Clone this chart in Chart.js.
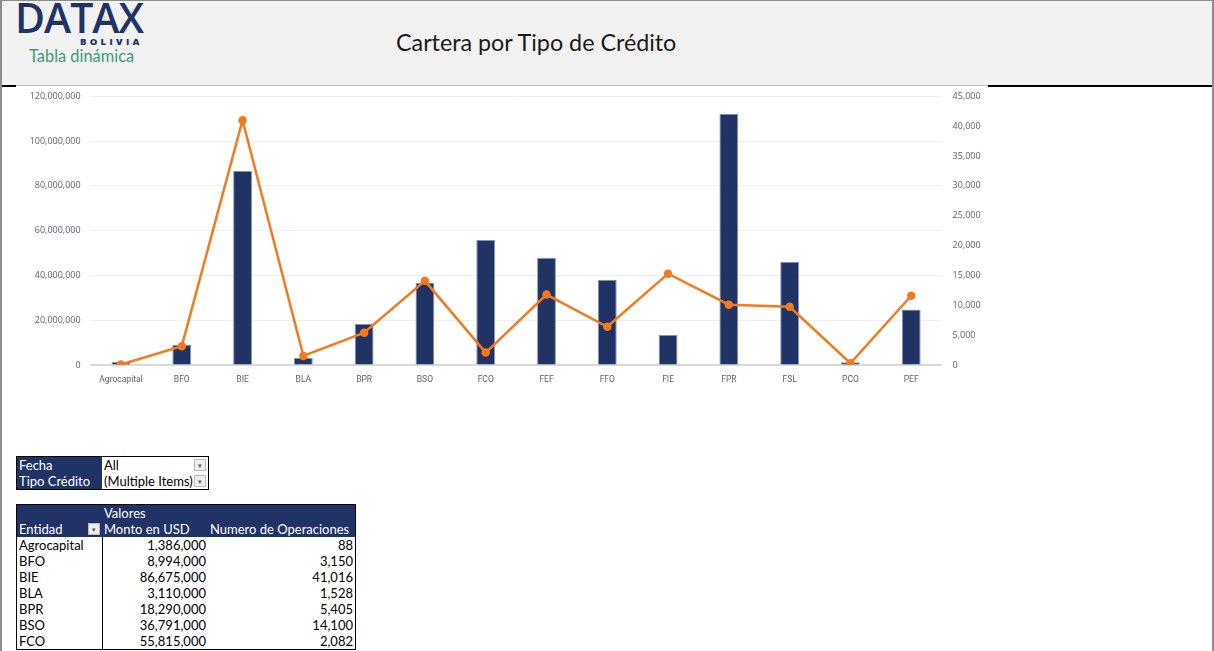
<!DOCTYPE html>
<html>
<head>
<meta charset="utf-8">
<script src="https://cdn.jsdelivr.net/npm/chart.js@4.4.1/dist/chart.umd.min.js"></script>
<style>
  html, body { margin: 0; padding: 0; background: #fff; }
  #frame { position: relative; width: 1214px; height: 651px; overflow: hidden; box-sizing: border-box;
    border-left: 2px solid #8c8c8c; border-top: 1px solid #8c8c8c; border-right: 2px solid #8c8c8c; }
  #header { position: absolute; left: 0; top: 0; width: 1212px; height: 85px; background: #f2f2f2; }
  #hline1 { position: absolute; left: 0; top: 84px; width: 988px; height: 1px; background: #bfbfbf; }
  #hline2 { position: absolute; left: 986px; top: 84px; width: 230px; height: 2px; background: #000; }
  #hline3 { position: absolute; left: 0; top: 84px; width: 14px; height: 2px; background: #000; }
  #logo { position: absolute; left: 13px; top: -12px; font-family: "Open Sans", sans-serif; font-weight: 600;
    font-size: 41px; color: #1f3366; letter-spacing: -1px; }
  #bolivia { position: absolute; left: 78px; top: 34px; font-family: "Open Sans", sans-serif; font-weight: 800;
    font-size: 9.5px; color: #1f3366; letter-spacing: 3.3px; }
  #sub { position: absolute; left: 27px; top: 45px; font-family: "Lato", sans-serif; font-size: 16.4px; color: #3c9c78; }
  #title { position: absolute; left: 394px; top: 27px; font-family: "Lato", sans-serif; font-size: 23.3px; color: #1a1a1a; }
  #chartBox { position: absolute; left: 14px; top: 80px; width: 972px; height: 320px; }
  table { border-collapse: collapse; font-family: "Lato", sans-serif; font-size: 13px; color: #000; position: absolute; }
  td { padding: 0 2px; height: 16px; line-height: 16px; white-space: nowrap; }
  .hd { background: #203266; color: #fff; }
  .num { text-align: right; }
  .btn { display: inline-block; width: 12px; height: 12px; background: #eee; border: 1px solid #bbb; box-sizing: border-box;
    vertical-align: middle; font-size: 7px; line-height: 10px; text-align: center; color: #555; float: right; margin-top: 2px; }
</style>
</head>
<body>
<div id="frame">
  <div id="header">
    <div id="logo">DATAX</div>
    <div id="bolivia">BOLIVIA</div>
    <div id="sub">Tabla dinámica</div>
    <div id="title">Cartera por Tipo de Crédito</div>
  </div>
  <div id="hline1"></div>
  <div id="hline2"></div>
  <div id="hline3"></div>
  <div id="chartBox"><canvas id="chart"></canvas></div>

  <table id="filters" style="left:14px; top:455px; border:1px solid #000;">
    <tr><td class="hd" style="width:81px;">Fecha</td><td style="width:102px;">All<span class="btn">&#9662;</span></td></tr>
    <tr><td class="hd">Tipo Crédito</td><td>(Multiple Items)<span class="btn">&#9662;</span></td></tr>
  </table>

  <table id="pivot" style="left:14px; top:503px; border:1px solid #000;">
    <tr class="hd"><td style="width:81px;"></td><td>Valores</td><td></td></tr>
    <tr class="hd"><td>Entidad<span class="btn">&#9662;</span></td><td style="width:102px;">Monto en USD</td><td style="width:143px;">Numero de Operaciones</td></tr>
    <tbody id="rows"></tbody>
  </table>
</div>

<script>
const entidades = ['Agrocapital', 'BFO', 'BIE', 'BLA', 'BPR', 'BSO', 'FCO', 'FEF', 'FFO', 'FIE', 'FPR', 'FSL', 'PCO', 'PEF'];
const montoUsd = [1386000, 8994000, 86675000, 3110000, 18290000, 36791000, 55815000, 47900000, 38100000, 13400000, 112200000, 46100000, 1200000, 24800000];
const numOperaciones = [88, 3150, 41016, 1528, 5405, 14100, 2082, 11800, 6400, 15300, 10100, 9750, 290, 11600];
const tableRows = 7;

const fmt = (v) => Number(v).toLocaleString('en-US');

document.getElementById('rows').innerHTML = entidades
  .slice(0, tableRows)
  .map(
    (e, i) => `
    <tr>
      <td style="border-right:1px solid #000;">${e}</td>
      <td class="num">${fmt(montoUsd[i])}</td>
      <td class="num">${fmt(numOperaciones[i])}</td>
    </tr>`
  )
  .join('');

const tickFont = { family: 'Open Sans', size: 9 };
const tickColor = '#5f6170';

new Chart(document.getElementById('chart'), {
  type: 'bar',
  data: {
    labels: entidades,
    datasets: [
      {
        type: 'line',
        label: 'Numero de Operaciones',
        data: numOperaciones,
        yAxisID: 'y2',
        borderColor: '#f47a20',
        backgroundColor: '#f47a20',
        borderWidth: 2.5,
        pointRadius: 3,
        pointHoverRadius: 3,
        tension: 0,
        order: 0,
      },
      {
        label: 'Monto en USD',
        data: montoUsd,
        yAxisID: 'y',
        backgroundColor: '#213264',
        borderColor: '#8593b3',
        borderWidth: 1,
        barPercentage: 0.31,
        categoryPercentage: 1,
        order: 1,
      },
    ],
  },
  options: {
    responsive: true,
    maintainAspectRatio: false,
    animation: false,
    layout: { padding: { top: 0, left: 0, right: 0, bottom: 0 } },
    plugins: { legend: { display: false }, tooltip: { enabled: false } },
    scales: {
      x: {
        grid: { display: false },
        border: { color: '#d9d9d9', width: 2 },
        ticks: { font: { family: 'Roboto', size: 8.5 }, color: tickColor, padding: 2, maxRotation: 0 },
        afterFit: (s) => { s.height = 36; },
      },
      y: {
        position: 'left',
        min: 0,
        max: 120000000,
        ticks: { stepSize: 20000000, font: tickFont, color: tickColor, padding: 10, callback: (v) => fmt(v) },
        grid: { color: '#efefef', drawTicks: false },
        border: { display: false },
        afterFit: (s) => { s.width = 74.6; },
      },
      y2: {
        position: 'right',
        min: 0,
        max: 45000,
        ticks: { stepSize: 5000, font: tickFont, color: tickColor, padding: 3, callback: (v) => fmt(v) },
        grid: { display: false },
        border: { display: false },
        afterFit: (s) => { s.width = 46.4; },
      },
    },
  },
});
</script>
</body>
</html>
